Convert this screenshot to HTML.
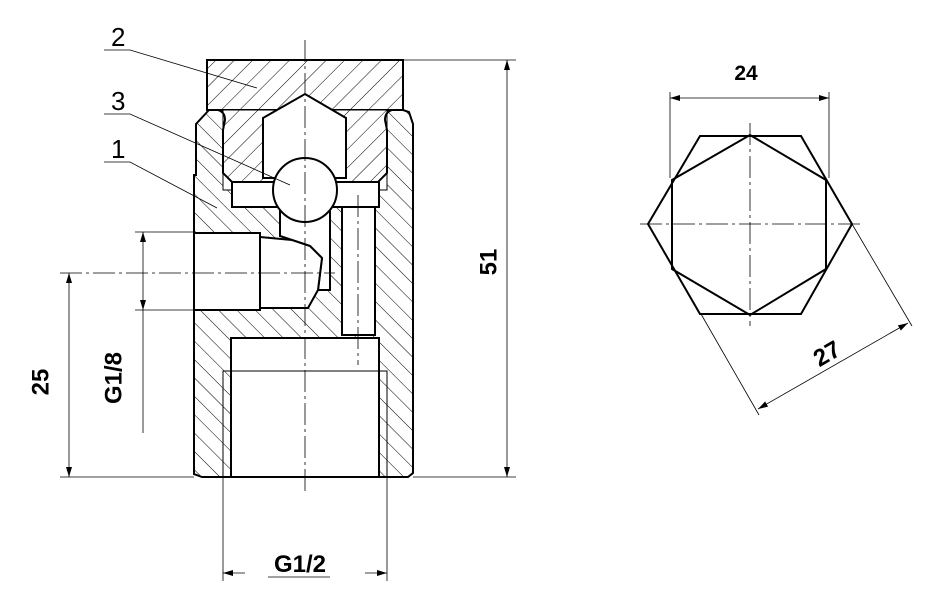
<!DOCTYPE html>
<html><head><style>html,body{margin:0;padding:0;background:#fff}svg{display:block}</style></head><body>
<svg width="940" height="602" viewBox="0 0 940 602" xmlns="http://www.w3.org/2000/svg" font-family="Liberation Sans, Arial, sans-serif">
<defs>
<pattern id="hb" patternUnits="userSpaceOnUse" width="13" height="13" patternTransform="rotate(-45)"><line x1="0" y1="0" x2="0" y2="13" stroke="#000" stroke-width="1"/></pattern>
<pattern id="hc" patternUnits="userSpaceOnUse" width="13" height="13" patternTransform="rotate(45)"><line x1="0" y1="0" x2="0" y2="13" stroke="#000" stroke-width="1"/></pattern>
<marker id="a" viewBox="0 0 10 6" refX="10" refY="3" markerWidth="10" markerHeight="6" orient="auto-start-reverse" markerUnits="userSpaceOnUse"><path d="M0,0 L10,3 L0,6 Z" fill="#000"/></marker>
</defs>
<rect width="940" height="602" fill="#fff"/>
<path d="M209,110 L196,124 L196,175 L194,175 L194,474 L202,477 L408,477 L413,473 L413,124 L409,112 L403,110 Z" fill="url(#hb)" stroke="#000" stroke-width="2"/>
<g fill="#fff" stroke="#000" stroke-width="2">
<rect x="223" y="110" width="164" height="80" stroke-width="1"/>
<rect x="232" y="182" width="147" height="25"/>
<path d="M280,207 L330,207 L330,290 L318,290 L322,258 L310,246 L292,240 L280,236 Z"/>
<rect x="194" y="233" width="66" height="77"/>
<path d="M260,237 L292,240 L310,246 L322,258 L318,290 L308,308 L260,308 Z"/>
<rect x="342" y="207" width="33" height="128"/>
<rect x="231" y="338" width="148" height="139"/>
</g>
<rect x="223" y="371" width="164" height="106" fill="none" stroke="#000" stroke-width="1"/>
<line x1="231" y1="371" x2="231" y2="477" stroke="#000" stroke-width="2"/>
<line x1="379" y1="371" x2="379" y2="477" stroke="#000" stroke-width="2"/>
<path d="M207,60 L403,60 L403,110 L392,110 Q385,112 385,120 L387,130 L387,173 L378,182 L232,182 L223,173 L223,130 L225,120 Q225,112 218,110 L207,110 Z" fill="url(#hc)" stroke="#000" stroke-width="2"/>
<path d="M263,118 L305,94 L346,118 L346,178 L263,178 Z" fill="#fff" stroke="#000" stroke-width="2"/>
<circle cx="305" cy="190" r="32" fill="#fff" stroke="#000" stroke-width="2"/>
<g stroke="#000" stroke-width="0.8" stroke-dasharray="22,4,3,4" fill="none">
<line x1="305" y1="40" x2="305" y2="492"/>
<line x1="60" y1="273" x2="335" y2="273"/>
<line x1="358" y1="195" x2="358" y2="365"/>
<line x1="640" y1="224" x2="862" y2="224"/>
<line x1="750" y1="123" x2="750" y2="326"/>
</g>
<g stroke="#000" stroke-width="0.8" fill="none">
<line x1="403" y1="60" x2="516" y2="60"/>
<line x1="413" y1="477" x2="516" y2="477"/>
<line x1="507" y1="60" x2="507" y2="477" marker-start="url(#a)" marker-end="url(#a)"/>
<line x1="60" y1="477" x2="194" y2="477"/>
<line x1="69" y1="273" x2="69" y2="477" marker-start="url(#a)" marker-end="url(#a)"/>
<line x1="135" y1="232" x2="194" y2="232"/>
<line x1="135" y1="310" x2="194" y2="310"/>
<line x1="143" y1="232" x2="143" y2="310" marker-start="url(#a)" marker-end="url(#a)"/>
<line x1="143" y1="310" x2="143" y2="433"/>
<line x1="223" y1="477" x2="223" y2="581"/>
<line x1="387" y1="477" x2="387" y2="581"/>
<line x1="245" y1="573" x2="223" y2="573" marker-end="url(#a)"/>
<line x1="365" y1="573" x2="387" y2="573" marker-end="url(#a)"/>
<line x1="268" y1="577" x2="330" y2="577"/>
<polyline points="104,50 130,50 257,88"/>
<polyline points="104,114 130,114 290,185"/>
<polyline points="104,162 130,162 217,208"/>
<line x1="670" y1="92" x2="670" y2="178"/>
<line x1="829" y1="92" x2="829" y2="178"/>
<line x1="670" y1="98" x2="829" y2="98" marker-start="url(#a)" marker-end="url(#a)"/>
<line x1="852" y1="224" x2="912" y2="326"/>
<line x1="701" y1="314" x2="759" y2="415"/>
<line x1="758" y1="409" x2="908" y2="323" marker-start="url(#a)" marker-end="url(#a)"/>
</g>
<g font-weight="bold" font-size="24" fill="#000">
<text x="490" y="262" text-anchor="middle" transform="rotate(-90 490 262)" dominant-baseline="middle">51</text>
<text x="42" y="382" text-anchor="middle" transform="rotate(-90 42 382)" dominant-baseline="middle">25</text>
<text x="115" y="378" text-anchor="middle" transform="rotate(-90 115 378)" dominant-baseline="middle">G1/8</text>
<text x="300" y="572" text-anchor="middle">G1/2</text>
<text x="746" y="80" text-anchor="middle" font-size="21">24</text>
<text x="826" y="362" text-anchor="middle" transform="rotate(-30 826 352)">27</text>
</g>
<g font-size="26" fill="#000">
<text x="111" y="46">2</text>
<text x="111" y="110">3</text>
<text x="111" y="158">1</text>
</g>
<g stroke="#000" stroke-width="2" fill="none">
<polygon points="700,136 801,136 852,224 801,314 700,314 648,224"/>
<polygon points="750,135 826,180 826,269 750,315 672,269 672,180"/>
</g>
</svg>
</body></html>
